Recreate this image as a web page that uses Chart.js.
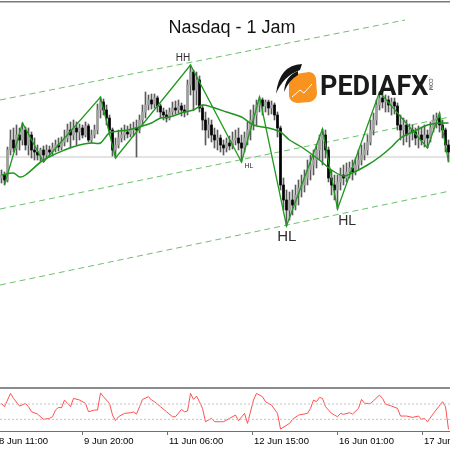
<!DOCTYPE html>
<html>
<head>
<meta charset="utf-8">
<script src="https://cdn.jsdelivr.net/npm/chart.js@4.4.0/dist/chart.umd.min.js"></script>
<style>
  html, body { margin: 0; padding: 0; background: #fff; }
  #wrap { position: relative; width: 450px; height: 450px; overflow: hidden; }
  #main { position: absolute; left: 0; top: 0; }
  #osc { position: absolute; left: 0; top: 386px; }
</style>
</head>
<body>
<div id="wrap">
  <canvas id="main" width="450" height="386"></canvas>
  <canvas id="osc" width="450" height="64"></canvas>
</div>
<script>
// hourly candles (index points)
const opens = [9610, 9625, 9600, 9750, 9800, 9760, 9825, 9800, 9850, 9775,
  9825, 9750, 9740, 9725, 9750, 9725, 9750, 9740, 9760, 9775,
  9765, 9790, 9810, 9850, 9825, 9860, 9840, 9860, 9825, 9870,
  9800, 9825, 9850, 9950, 9990, 9950, 9910, 9850, 9750, 9775,
  9810, 9825, 9840, 9830, 9850, 9860, 9850, 9900, 9940, 9975,
  10000, 9980, 10010, 9970, 9940, 9925, 9910, 9940, 9960, 9950,
  9970, 9950, 9940, 10075, 10140, 10050, 10100, 9960, 9900, 9850,
  9875, 9825, 9800, 9810, 9775, 9760, 9785, 9770, 9800, 9810,
  9785, 9760, 9810, 9850, 9900, 9925, 9975, 10000, 9970, 9990,
  9960, 9975, 9925, 9860, 9575, 9500, 9450, 9500, 9475, 9525,
  9560, 9575, 9610, 9650, 9675, 9700, 9750, 9800, 9825, 9750,
  9610, 9575, 9550, 9590, 9625, 9610, 9640, 9660, 9640, 9675,
  9700, 9725, 9750, 9790, 9850, 9900, 9975, 10010, 9990, 10000,
  9975, 9990, 9970, 9875, 9850, 9875, 9825, 9850, 9840, 9810,
  9825, 9800, 9825, 9810, 9860, 9900, 9910, 9875, 9850, 9775];
const highs = [9650, 9640, 9765, 9850, 9860, 9875, 9860, 9885, 9865, 9860,
  9840, 9810, 9775, 9760, 9770, 9775, 9770, 9785, 9800, 9810,
  9815, 9850, 9880, 9890, 9900, 9890, 9880, 9875, 9890, 9880,
  9850, 9875, 9980, 10015, 10005, 9975, 9925, 9860, 9810, 9850,
  9860, 9875, 9870, 9880, 9890, 9900, 9925, 9975, 10040, 10025,
  10030, 10030, 10020, 9980, 9960, 9950, 9960, 9990, 9995, 10000,
  9985, 9975, 10100, 10175, 10150, 10140, 10120, 9975, 9940, 9910,
  9900, 9860, 9850, 9825, 9800, 9810, 9820, 9840, 9850, 9860,
  9825, 9840, 9890, 9950, 9975, 10000, 10015, 10010, 10000, 10000,
  9995, 9985, 9940, 9870, 9610, 9550, 9540, 9550, 9575, 9600,
  9625, 9650, 9700, 9725, 9750, 9775, 9825, 9855, 9850, 9765,
  9650, 9625, 9625, 9660, 9675, 9685, 9690, 9700, 9710, 9750,
  9775, 9785, 9825, 9900, 9935, 10000, 10040, 10035, 10025, 10020,
  10010, 10010, 9985, 9925, 9910, 9900, 9880, 9875, 9860, 9870,
  9860, 9875, 9850, 9890, 9925, 9935, 9935, 9900, 9860, 9800];
const lows = [9585, 9575, 9590, 9725, 9740, 9725, 9750, 9775, 9750, 9725,
  9710, 9700, 9700, 9695, 9690, 9710, 9715, 9720, 9740, 9745,
  9750, 9770, 9790, 9760, 9800, 9775, 9800, 9810, 9815, 9790,
  9785, 9810, 9830, 9910, 9925, 9875, 9825, 9720, 9710, 9760,
  9790, 9800, 9810, 9815, 9820, 9715, 9835, 9875, 9910, 9950,
  9955, 9960, 9940, 9910, 9900, 9890, 9900, 9925, 9930, 9935,
  9920, 9915, 9925, 10025, 9950, 9975, 9940, 9850, 9775, 9810,
  9790, 9760, 9750, 9740, 9725, 9740, 9750, 9755, 9775, 9750,
  9690, 9740, 9775, 9800, 9850, 9875, 9940, 9925, 9940, 9925,
  9930, 9900, 9815, 9550, 9450, 9370, 9400, 9425, 9450, 9475,
  9515, 9540, 9575, 9600, 9625, 9660, 9700, 9675, 9710, 9590,
  9525, 9500, 9455, 9550, 9575, 9590, 9610, 9600, 9625, 9650,
  9675, 9700, 9725, 9775, 9825, 9875, 9950, 9960, 9940, 9940,
  9925, 9930, 9850, 9800, 9775, 9790, 9765, 9800, 9775, 9760,
  9775, 9765, 9760, 9790, 9840, 9860, 9840, 9810, 9740, 9690];
const closes = [9625, 9600, 9750, 9800, 9760, 9825, 9800, 9850, 9775, 9825,
  9750, 9740, 9725, 9750, 9725, 9750, 9740, 9760, 9775, 9765,
  9790, 9810, 9850, 9825, 9860, 9840, 9860, 9825, 9870, 9800,
  9825, 9850, 9950, 9990, 9950, 9910, 9850, 9750, 9775, 9810,
  9825, 9840, 9830, 9850, 9860, 9850, 9900, 9940, 9975, 10000,
  9980, 10010, 9970, 9940, 9925, 9910, 9940, 9960, 9950, 9970,
  9950, 9940, 10075, 10140, 10050, 10100, 9960, 9900, 9850, 9875,
  9825, 9800, 9810, 9775, 9760, 9785, 9770, 9800, 9810, 9785,
  9760, 9810, 9850, 9900, 9925, 9975, 10000, 9970, 9990, 9960,
  9975, 9925, 9860, 9575, 9500, 9450, 9500, 9475, 9525, 9560,
  9575, 9610, 9650, 9675, 9700, 9750, 9800, 9825, 9750, 9610,
  9575, 9550, 9590, 9625, 9610, 9640, 9660, 9640, 9675, 9700,
  9725, 9750, 9790, 9850, 9900, 9975, 10010, 9990, 10000, 9975,
  9990, 9970, 9875, 9850, 9875, 9825, 9850, 9840, 9810, 9825,
  9800, 9825, 9810, 9860, 9900, 9910, 9875, 9850, 9775, 9740];

// zigzag swings
const zigzagBars = [1, 7, 14, 33, 38, 63, 80, 86, 95, 107, 112, 126, 142, 146, 149];
const zigzagPrices = [9575, 9885, 9690, 10015, 9710, 10175, 9690, 10015, 9370, 9855, 9455, 10040, 9760, 9935, 9690];

// moving average
const maBars = [0, 4, 6, 8, 14, 21, 26, 30, 33, 36, 42, 46, 50, 53, 56, 61, 64, 67, 70, 75,
  80, 84, 89, 93, 96, 100, 106, 110, 114, 117, 122, 126, 130, 133, 137, 142, 146, 149];
const maPrices = [9625, 9635, 9615, 9625, 9700, 9750, 9775, 9785, 9785, 9835, 9850, 9865, 9885, 9910, 9915, 9940, 9950, 9975, 9965, 9940,
  9915, 9875, 9860, 9840, 9800, 9765, 9700, 9650, 9620, 9635, 9675, 9715, 9765, 9810, 9840, 9875, 9885, 9885];

// channel lines and level
const channelTopBars = [-0.5, 134.5];
const channelTopPrices = [10000, 10400];
const channelMidBars = [-0.5, 149.5];
const channelMidPrices = [9455, 9915];
const channelLowBars = [-0.5, 149.5];
const channelLowPrices = [9075, 9545];
const levelBars = [-0.5, 149.5];
const levelPrices = [9715, 9715];

// swing labels
const swingLabels = ["HH", "HL", "HL", "HL"];
const swingBars = [60.5, 82.5, 95.1, 115.2];
const swingPrices = [10207, 9670, 9316, 9396];
const swingFontPx = [10, 7, 15, 14];

// oscillator
const rsiBars = [0, 1, 3, 4, 6, 8, 9, 10, 12, 14, 16, 17, 18, 19, 20, 21, 22, 23, 24, 26,
  28, 29, 31, 32, 33, 34, 36, 37, 38, 39, 41, 43, 44, 45, 46, 47, 49, 50, 51, 53,
  55, 57, 58, 60, 61, 62, 63, 64, 65, 66, 67, 68, 70, 71, 73, 74, 76, 78, 79, 81,
  82, 84, 85, 87, 88, 90, 92, 93, 96, 97, 99, 102, 103, 104, 105, 106, 107, 108, 110, 111,
  112, 113, 114, 116, 117, 119, 120, 121, 123, 124, 126, 127, 128, 130, 132, 133, 135, 137, 139, 140,
  141, 142, 144, 147, 148, 149];
const rsiValues = [71.7, 63, 97.9, 84.8, 64.7, 71.7, 63, 49.9, 43.8, 29.9, 32.5, 36.8, 54.3, 61.2, 60.4, 80.4, 71.7, 63, 84.8, 80.4,
  71.7, 49.9, 54.3, 54.3, 99, 89.1, 71.7, 41.2, 26.4, 36.8, 45.6, 47.3, 49, 43.8, 63, 82.2, 89.1, 80.4, 76.1, 63,
  49.9, 36.8, 36.8, 56, 49.9, 51.7, 97.9, 82.2, 90.9, 76.1, 58.6, 23.8, 32.5, 23.8, 23.8, 23.8, 32.5, 41.2, 26.4, 45.6,
  19.4, 80.4, 97.9, 89.1, 76.1, 67.3, 45.6, 4.6, 19.4, 29.9, 41.2, 45.6, 58.6, 80.4, 76.1, 87.4, 84.8, 63, 45.6, 41.2,
  36.8, 45.6, 43, 47.3, 43.8, 58.6, 82.2, 71.7, 71.7, 78.7, 93.5, 84.8, 70, 64.7, 58.6, 38.6, 38.6, 35.1, 38.6, 29.9,
  32.5, 23.8, 45.6, 76.1, 63, 3.7];
const rsiLevels = [70, 30];

const timeLabels = ["8 Jun 11:00", "9 Jun 20:00", "11 Jun 06:00", "12 Jun 15:00", "16 Jun 01:00", "17 Jun 11:00"];
const timeBars = [-1.5, 26.8, 55.2, 83.5, 111.8, 140.2];

const titleText = "Nasdaq - 1 Jam";

const barIdx = opens.map((o, i) => i);
const pts = (xs, ys) => xs.map((b, k) => ({ x: b, y: ys[k] }));
const xScale = { type: "linear", min: -0.5, max: 149.5, display: false, offset: false };
const dashed = { borderColor: "#6fbf6f", borderWidth: 1, borderDash: [6, 4], pointRadius: 0, order: 9 };

function drawLogo(ctx) {
  // orange badge
  ctx.fillStyle = "#f7931e";
  ctx.beginPath();
  ctx.moveTo(296, 74);
  ctx.lineTo(309, 72);
  ctx.quadraticCurveTo(314, 72, 316, 78);
  ctx.lineTo(317, 94);
  ctx.quadraticCurveTo(316, 100, 310, 102);
  ctx.lineTo(297, 103);
  ctx.quadraticCurveTo(290, 102, 289, 96);
  ctx.lineTo(289, 82);
  ctx.quadraticCurveTo(290, 75, 296, 74);
  ctx.fill();
  ctx.strokeStyle = "#fff";
  ctx.lineWidth = 1;
  ctx.beginPath();
  ctx.moveTo(292, 97);
  ctx.lineTo(300, 90);
  ctx.lineTo(304, 93);
  ctx.lineTo(312, 84);
  ctx.stroke();
  // black swoosh
  ctx.fillStyle = "#151515";
  ctx.beginPath();
  ctx.moveTo(302, 64);
  ctx.quadraticCurveTo(279, 65, 276, 94);
  ctx.quadraticCurveTo(283, 76, 300, 70);
  ctx.closePath();
  ctx.fill();
  ctx.beginPath();
  ctx.moveTo(298, 71);
  ctx.quadraticCurveTo(285, 76, 284, 92);
  ctx.quadraticCurveTo(289, 80, 298, 75);
  ctx.closePath();
  ctx.fill();
  // text
  ctx.fillStyle = "#1a1a1a";
  ctx.font = "bold 27px Roboto, 'Liberation Sans', sans-serif";
  ctx.textAlign = "left";
  ctx.textBaseline = "alphabetic";
  ctx.fillText("PEDIAFX", 320, 95);
  ctx.save();
  ctx.translate(429, 77);
  ctx.rotate(Math.PI / 2);
  ctx.font = "5px 'Liberation Sans', sans-serif";
  ctx.fillText(".COM", 0, 0);
  ctx.restore();
}

const mainDecor = {
  id: "mainDecor",
  afterDraw(chart) {
    const { ctx, scales: { x, y } } = chart;
    ctx.save();
    ctx.fillStyle = "#2e2e2e";
    ctx.textAlign = "center";
    ctx.textBaseline = "middle";
    swingLabels.forEach((t, k) => {
      ctx.font = swingFontPx[k] + "px 'Liberation Sans', Arial, sans-serif";
      ctx.fillText(t, x.getPixelForValue(swingBars[k]), y.getPixelForValue(swingPrices[k]));
    });
    ctx.fillStyle = "#111";
    ctx.font = "18px 'Liberation Sans', Arial, sans-serif";
    ctx.fillText(titleText, 232, 28);
    drawLogo(ctx);
    ctx.fillStyle = "#7a7a7a";
    ctx.fillRect(0, 1, 450, 1.5);
    ctx.restore();
  }
};

new Chart(document.getElementById("main"), {
  type: "bar",
  data: {
    datasets: [
      { type: "line", data: pts(levelBars, levelPrices), borderColor: "#c8c8c8", borderWidth: 1, pointRadius: 0, order: 10 },
      { type: "line", data: pts(channelTopBars, channelTopPrices), ...dashed },
      { type: "line", data: pts(channelMidBars, channelMidPrices), ...dashed },
      { type: "line", data: pts(channelLowBars, channelLowPrices), ...dashed },
      { type: "bar", data: barIdx.map(i => ({ x: i, y: [lows[i], highs[i]] })), backgroundColor: "#5a5a5a",
        barThickness: 1, grouped: false, order: 8 },
      { type: "bar", data: barIdx.map(i => ({ x: i, y: [opens[i], closes[i]] })),
        backgroundColor: barIdx.map(i => closes[i] >= opens[i] ? "#a0a0a0" : "#000000"),
        barThickness: 2, grouped: false, order: 7 },
      { type: "line", data: pts(maBars, maPrices), borderColor: "#1f951f", borderWidth: 1.5, pointRadius: 0, tension: 0.3, order: 2 },
      { type: "line", data: pts(zigzagBars, zigzagPrices), borderColor: "#1e9a1e", borderWidth: 1.3, pointRadius: 0, order: 1 }
    ]
  },
  options: {
    responsive: false,
    animation: false,
    devicePixelRatio: 1,
    layout: { padding: 0, autoPadding: false },
    plugins: { legend: { display: false }, tooltip: { enabled: false } },
    scales: {
      x: xScale,
      y: { min: 8570, max: 10500, display: false }
    }
  },
  plugins: [mainDecor]
});

const oscDecor = {
  id: "oscDecor",
  beforeDraw(chart) {
    const { ctx } = chart;
    ctx.save();
    ctx.fillStyle = "#8c8c8c";
    ctx.fillRect(0, 1, 450, 2);
    ctx.restore();
  },
  afterDraw(chart) {
    const { ctx, chartArea, scales: { x } } = chart;
    ctx.save();
    ctx.strokeStyle = "#707070";
    ctx.lineWidth = 1;
    ctx.beginPath();
    ctx.moveTo(0, chartArea.bottom + 0.5);
    ctx.lineTo(450, chartArea.bottom + 0.5);
    ctx.stroke();
    ctx.font = "9.5px 'Liberation Sans', Arial, sans-serif";
    ctx.fillStyle = "#000";
    ctx.textAlign = "left";
    ctx.textBaseline = "middle";
    timeLabels.forEach((t, k) => {
      const px = Math.round(x.getPixelForValue(timeBars[k])) + 0.5;
      ctx.beginPath();
      ctx.moveTo(px, chartArea.bottom + 1);
      ctx.lineTo(px, chartArea.bottom + 4);
      ctx.stroke();
      ctx.fillText(t, px + 1.5, chartArea.bottom + 10);
    });
    ctx.restore();
  }
};

new Chart(document.getElementById("osc"), {
  type: "line",
  data: {
    datasets: [
      ...rsiLevels.map(v => ({ data: [{ x: -0.5, y: v }, { x: 149.5, y: v }], borderColor: "#c4c4c4", borderWidth: 1, borderDash: [2, 2], pointRadius: 0 })),
      { data: pts(rsiBars, rsiValues), borderColor: "#ff5050", borderWidth: 1, pointRadius: 0 }
    ]
  },
  options: {
    responsive: false,
    animation: false,
    devicePixelRatio: 1,
    layout: { padding: { top: 4, bottom: 19, left: 0, right: 0 }, autoPadding: false },
    plugins: { legend: { display: false }, tooltip: { enabled: false } },
    scales: {
      x: xScale,
      y: { min: -0.5, max: 106.7, display: false }
    }
  },
  plugins: [oscDecor]
});
</script>
</body>
</html>
